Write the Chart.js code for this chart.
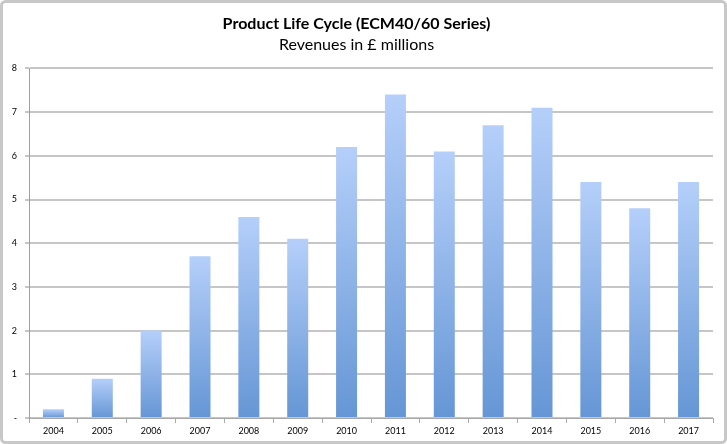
<!DOCTYPE html>
<html>
<head>
<meta charset="utf-8">
<script src="https://cdn.jsdelivr.net/npm/chart.js@4.4.1/dist/chart.umd.min.js"></script>
<style>
  html, body { margin: 0; padding: 0; background: #fff; }
  canvas { display: block; }
</style>
</head>
<body>
<canvas id="lifeCycleChart" width="727" height="444"></canvas>
<script>
const years = ['2004', '2005', '2006', '2007', '2008', '2009', '2010',
               '2011', '2012', '2013', '2014', '2015', '2016', '2017'];
const revenues = [0.2, 0.9, 2.0, 3.7, 4.6, 4.1, 6.2, 7.4, 6.1, 6.7, 7.1, 5.4, 4.8, 5.4];
const yTicks = [0, 1, 2, 3, 4, 5, 6, 7, 8];

const fontFamily = 'Lato, "Open Sans", sans-serif';

// Frame around the whole chart, like the spreadsheet export
const framePlugin = {
    id: 'frame',
    beforeDraw(chart) {
        const c = chart.ctx;
        c.save();
        c.fillStyle = '#ffffff';
        c.fillRect(0, 0, chart.width, chart.height);
        c.strokeStyle = '#c8c8c8';
        c.lineWidth = 3;
        c.beginPath();
        c.roundRect(1.5, 1.5, chart.width - 3, chart.height - 3, 4);
        c.stroke();
        c.restore();
    }
};

// Each bar gets its own light-to-dark gradient from its top to the baseline
const barGradient = (context) => {
    const chart = context.chart;
    const yScale = chart.scales.y;
    if (!chart.chartArea || !yScale) return '#8ab0e6';
    const value = context.raw;
    const top = yScale.getPixelForValue(value);
    const bottom = yScale.getPixelForValue(0);
    const g = chart.ctx.createLinearGradient(0, top, 0, bottom);
    g.addColorStop(0, '#b5cffa');
    g.addColorStop(1, '#6596d5');
    return g;
};

const ctx = document.getElementById('lifeCycleChart');

window.lifeCycleChartInstance = new Chart(ctx, {
    type: 'bar',
    data: {
        labels: years,
        datasets: [{
            label: 'Revenues',
            data: revenues,
            backgroundColor: barGradient,
            borderWidth: 0,
            categoryPercentage: 1,
            barPercentage: 0.43
        }]
    },
    options: {
        responsive: false,
        animation: false,
        layout: { padding: { left: 0, right: 14, top: 0, bottom: 4 } },
        plugins: {
            legend: { display: false },
            tooltip: { enabled: false },
            title: {
                display: true,
                text: 'Product Life Cycle (ECM40/60 Series)',
                color: '#000',
                font: { family: fontFamily, size: 16, weight: 'bold', lineHeight: 1.2 },
                padding: { top: 14, bottom: 2 }
            },
            subtitle: {
                display: true,
                text: 'Revenues in £ millions',
                color: '#000',
                font: { family: fontFamily, size: 16, weight: 'normal', lineHeight: 1.2 },
                padding: { top: 0, bottom: 14 }
            }
        },
        scales: {
            x: {
                offset: true,
                grid: {
                    offset: true,
                    drawOnChartArea: false,
                    drawTicks: true,
                    tickLength: 5,
                    color: '#a8a8a8'
                },
                border: { display: true, color: '#a8a8a8', width: 1 },
                ticks: {
                    color: '#000',
                    padding: 3,
                    maxRotation: 0,
                    font: { family: fontFamily, size: 9 }
                },
                afterFit(scale) { scale.height = 22; }
            },
            y: {
                min: 0,
                max: 8,
                afterBuildTicks(scale) {
                    scale.ticks = yTicks.map(v => ({ value: v }));
                },
                grid: {
                    color: '#c6c6c6',
                    lineWidth: 2,
                    tickLength: 4
                },
                border: { display: true, color: '#a0a0a0', width: 1 },
                ticks: {
                    color: '#000',
                    padding: 8,
                    font: { family: fontFamily, size: 9 },
                    callback: (v) => (v === 0 ? '-' : v)
                },
                afterFit(scale) { scale.width = 29; }
            }
        }
    },
    plugins: [framePlugin]
});
</script>
</body>
</html>
